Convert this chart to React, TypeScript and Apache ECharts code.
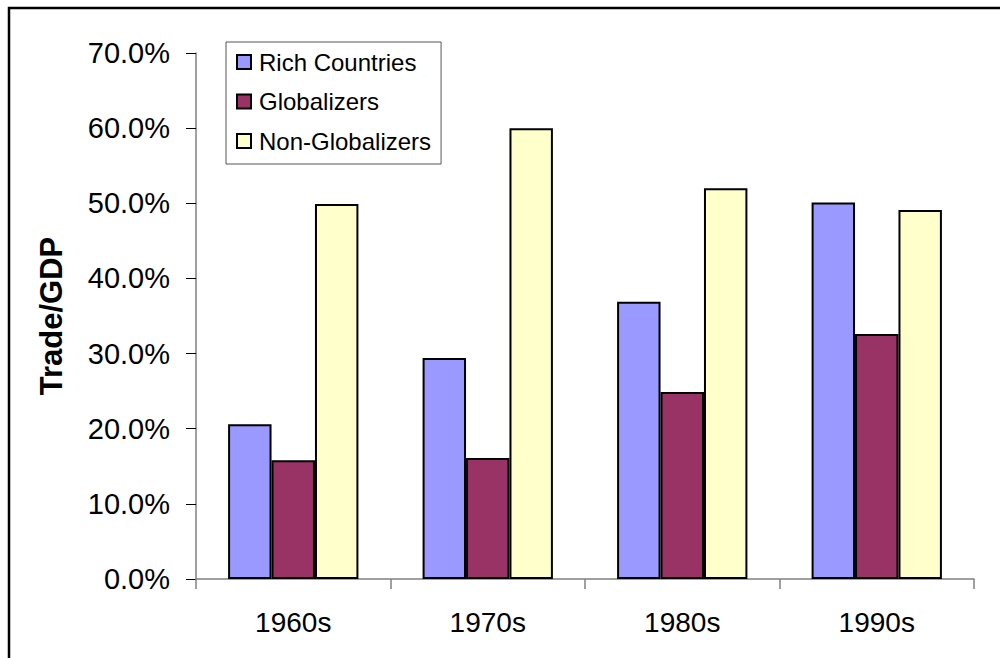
import React, { useEffect, useRef } from "react";
import * as echarts from "echarts";

const categories = ["1960s", "1970s", "1980s", "1990s"];
const richCountries = [20.6, 29.4, 36.9, 50.1];
const globalizers = [15.8, 16.1, 24.9, 32.6];
const nonGlobalizers = [49.9, 60.0, 52.0, 49.1];
const seriesNames = ["Rich Countries", "Globalizers", "Non-Globalizers"];
const seriesColors = ["#9999FF", "#993366", "#FFFFCC"];

export default function App() {
  const ref = useRef<HTMLDivElement>(null);
  useEffect(() => {
    if (!ref.current) return;
    const chart = echarts.init(ref.current, null, { renderer: "svg" });
    const font = "Liberation Sans, Arial, sans-serif";
    const datasets = [richCountries, globalizers, nonGlobalizers];
    chart.setOption({
      animation: false,
      backgroundColor: "#ffffff",
      textStyle: { fontFamily: font },
      graphic: [
        {
          type: "rect",
          shape: { x: 9, y: 8, width: 1010, height: 700 },
          style: { fill: "none", stroke: "#000", lineWidth: 2.5 },
          z: 100,
        },
      ],
      grid: { left: 196, top: 53, right: 26, bottom: 79, containLabel: false },
      legend: {
        orient: "vertical",
        left: 226,
        top: 42,
        padding: [8, 10, 11, 10],
        itemGap: 15.5,
        itemWidth: 14,
        itemHeight: 14,
        icon: "rect",
        borderColor: "#555",
        borderWidth: 1,
        backgroundColor: "#fff",
        textStyle: {
          fontFamily: font,
          fontSize: 24,
          color: "#000",
          height: 24,
          lineHeight: 24,
          padding: [0, 0, 0, 3],
        },
        data: seriesNames,
      },
      xAxis: {
        type: "category",
        data: categories,
        axisLine: { lineStyle: { color: "#808080", width: 1.5 } },
        axisTick: { show: true, length: 10, lineStyle: { color: "#808080", width: 1.5 } },
        axisLabel: { fontFamily: font, fontSize: 28, color: "#000", margin: 29 },
      },
      yAxis: {
        type: "value",
        min: 0,
        max: 70,
        interval: 10,
        name: "Trade/GDP",
        nameLocation: "middle",
        nameGap: 129,
        nameTextStyle: { fontFamily: font, fontSize: 31, fontWeight: "bold", color: "#000" },
        axisLine: { show: true, lineStyle: { color: "#808080", width: 1.5 } },
        axisTick: { show: true, length: 10, lineStyle: { color: "#000", width: 1 } },
        splitLine: { show: false },
        axisLabel: {
          fontFamily: font,
          fontSize: 29,
          color: "#000",
          margin: 26,
          formatter: (v: number) => v.toFixed(1) + "%",
        },
      },
      series: seriesNames.map((name, i) => ({
        name,
        type: "bar",
        data: datasets[i],
        barGap: "0%",
        barCategoryGap: "33%",
        itemStyle: { color: seriesColors[i], borderColor: "#000", borderWidth: 2 },
      })),
    });
    return () => chart.dispose();
  }, []);
  return (
    <div
      ref={ref}
      style={{ position: "fixed", left: 0, top: 0, width: 1000, height: 658 }}
    />
  );
}
